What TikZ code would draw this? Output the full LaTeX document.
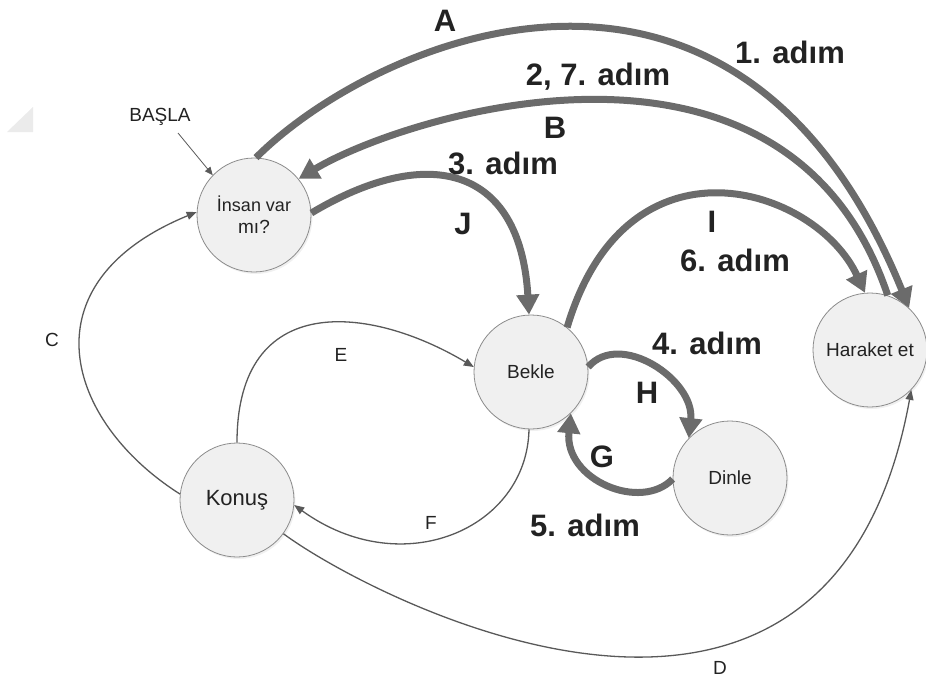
\documentclass[tikz,border=0pt]{standalone}
\usepackage{fontspec}
\setmainfont{Liberation Sans}
\usetikzlibrary{arrows.meta,shadows}
\definecolor{edgegray}{HTML}{6B6B6B}
\definecolor{thingray}{HTML}{595959}
\definecolor{ringgray}{HTML}{8C8C8C}
\definecolor{discfill}{HTML}{F0F0F0}
\definecolor{inkdark}{HTML}{222222}
\definecolor{cornergray}{HTML}{EBEBEB}
\begin{document}
\begin{tikzpicture}[x=1pt,y=-1pt,
  state/.style={circle, draw=ringgray, line width=0.8pt, fill=discfill,
    minimum size=114pt, inner sep=0pt, text=inkdark, align=center,
    font=\fontsize{19}{22}\selectfont,
    drop shadow={opacity=0.12, shadow xshift=1.5pt, shadow yshift=-2pt}},
  heavy/.style={draw=edgegray, line width=7pt, -{Triangle[length=20pt,width=22pt]}},
  light/.style={draw=thingray, line width=1.3pt, -{Triangle[length=10pt,width=8pt]}},
  hairline/.style={draw=thingray, line width=0.8pt, -{Triangle[length=8pt,width=7pt]}},
  steplabel/.style={text=inkdark, font=\fontsize{31}{36}\bfseries\selectfont},
  edgelabel/.style={text=inkdark, font=\fontsize{19}{22}\selectfont},
]
\useasboundingbox (0,0) rectangle (926,681);

% faint corner mark
\fill[cornergray] (7,132) -- (33,132) -- (33,107) -- cycle;

% states
\node[state, yshift=-3pt] (insan) at (254,212) {\fontsize{18}{25}\selectfont İnsan var\\mı?};
\node[state] (bekle) at (531,372) {Bekle};
\node[state] (dinle) at (730,478) {Dinle};
\node[state] (haraket) at (870,350) {Haraket et};
\node[state] (konus) at (237,500) {\fontsize{22}{25}\selectfont Konuş};

% start marker
\node[edgelabel] (basla) at (160,117) {BAŞLA};
\coordinate (bstart) at (178,133);
\draw[hairline] (bstart) -- (insan.136);

% main cycle (heavy arrows)
\draw[heavy] (insan.88) .. controls (370,43) and (734,-122) .. (haraket.47);
\draw[heavy] (haraket.72) .. controls (786,-7) and (401,117) .. (insan.39);
\draw[heavy] (insan.2) .. controls (425,145) and (520,163) .. (bekle.92);
\draw[heavy] (bekle.51) .. controls (627,126) and (816,187) .. (haraket.95);
\draw[heavy] (bekle.5) .. controls (620,330) and (695,380) .. (dinle.136);
\draw[heavy] (dinle.181) .. controls (641,512) and (564,480) .. (bekle.314);

% other transitions (light arrows)
\draw[light] (konus.174) .. controls (65,421) and (24,283) .. (insan.177);
\draw[light] (konus.90) .. controls (237,290) and (370,305) .. (bekle.175);
\draw[light] (bekle.268) .. controls (527,529) and (402,583) .. (konus.-5);
\draw[light] (konus.-36) .. controls (370,598) and (830,838) .. (haraket.-44);

% step labels
\node[steplabel] (lA) at (445,21) {A};
\node[steplabel] (s1) at (790,52) {1. adım};
\node[steplabel] (s27) at (598,77) {2, 7. adım};
\node[steplabel] (lB) at (555,128) {B};
\node[steplabel] (s3) at (503,163) {3. adım};
\node[steplabel] (lJ) at (463,224) {J};
\node[steplabel] (lI) at (712,222) {I};
\node[steplabel] (s6) at (735,260) {6. adım};
\node[steplabel] (s4) at (707,343) {4. adım};
\node[steplabel] (lH) at (647,393) {H};
\node[steplabel] (lG) at (602,457) {G};
\node[steplabel] (s5) at (585,525) {5. adım};

% transition letters
\node[edgelabel] (lC) at (52,340) {C};
\node[edgelabel] (lE) at (341,355) {E};
\node[edgelabel] (lF) at (431,523) {F};
\node[edgelabel] (lD) at (720,668) {D};
\end{tikzpicture}
\end{document}
